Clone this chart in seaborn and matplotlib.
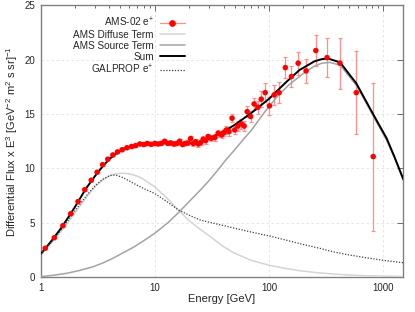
import numpy as np
import pandas as pd
import matplotlib
matplotlib.use("Agg")
import matplotlib.pyplot as plt
import seaborn as sns
from matplotlib.ticker import LogLocator, NullFormatter, FixedLocator
from matplotlib.lines import Line2D

# ---- data ----
ams_energy = [1.10, 1.32, 1.57, 1.84, 2.13, 2.44, 2.78, 3.13, 3.50, 3.88, 4.30, 4.72,
              5.18, 5.70, 6.27, 6.80, 7.40, 8.00, 8.60, 9.30, 10.0, 10.7, 11.4, 12.2,
              13.0, 13.8, 14.7, 15.6, 16.5, 17.5, 18.5, 19.5, 20.6, 21.7, 22.8, 24.0,
              25.2, 26.5, 27.9, 29.3, 31.3, 33.6, 35.9, 38.4, 40.4, 42.4, 44.7, 47.5,
              50.1, 53.4, 57.4, 60.6, 64.4, 69.0, 74.1, 80.0, 85.5, 92.6, 100.9, 111.0,
              122.6, 139.0, 157.0, 180.0, 211.0, 257.0, 322.0, 418.0, 581.0, 817.0]
ams_flux = [2.66, 3.63, 4.74, 5.84, 6.95, 8.05, 8.91, 9.65, 10.35, 10.85, 11.24, 11.52,
            11.72, 11.90, 12.02, 12.10, 12.25, 12.20, 12.30, 12.22, 12.30, 12.25, 12.30, 12.50,
            12.30, 12.35, 12.25, 12.30, 12.50, 12.20, 12.30, 12.35, 12.75, 12.30, 12.45, 12.25,
            12.37, 12.68, 12.56, 12.93, 12.78, 12.84, 13.24, 13.08, 13.30, 13.54, 13.39, 14.62,
            13.54, 13.90, 14.09, 13.90, 15.22, 14.77, 15.93, 15.63, 16.37, 16.97, 15.75, 16.76,
            16.97, 19.27, 18.45, 19.68, 18.97, 20.84, 20.19, 19.68, 16.97, 11.09]
ams_err = [0.08, 0.08, 0.08, 0.08, 0.08, 0.09, 0.09, 0.09, 0.10, 0.10, 0.10, 0.10,
           0.10, 0.11, 0.11, 0.11, 0.12, 0.12, 0.12, 0.13, 0.13, 0.14, 0.14, 0.15,
           0.15, 0.16, 0.16, 0.17, 0.18, 0.18, 0.19, 0.20, 0.21, 0.22, 0.23, 0.24,
           0.25, 0.26, 0.27, 0.28, 0.29, 0.30, 0.31, 0.32, 0.33, 0.35, 0.37, 0.38,
           0.40, 0.42, 0.44, 0.46, 0.48, 0.52, 0.55, 0.60, 0.75, 0.85, 0.80, 0.90,
           0.95, 1.00, 1.00, 1.07, 1.10, 1.45, 1.80, 2.35, 3.80, 6.80]

diffuse_energy = [1.0, 1.25, 1.5, 1.75, 2.0, 2.5, 3.0, 3.5, 4.0, 4.5, 5.0, 5.5, 6.0, 7.0,
                  8.0, 10.0, 13.0, 16.0, 20.0, 25.0, 30.0, 40.0, 50.0, 70.0, 100.0, 140.0,
                  185.0, 260.0, 360.0, 500.0, 700.0, 1000.0, 1500.0]
diffuse_flux = [2.05, 3.15, 4.15, 5.05, 5.90, 7.30, 8.30, 8.95, 9.30, 9.50, 9.55, 9.55, 9.50, 9.30,
                9.00, 8.30, 7.20, 6.20, 5.20, 4.40, 3.80, 2.80, 2.20, 1.55, 1.10, 0.80,
                0.60, 0.42, 0.30, 0.20, 0.14, 0.10, 0.07]

source_energy = [1.0, 1.3, 1.7, 2.2, 2.9, 3.5, 4.3, 5.3, 6.5, 8.0, 10.0, 13.0, 16.0, 20.0,
                 25.0, 30.0, 36.0, 42.0, 50.0, 60.0, 70.0, 82.0, 95.0, 120.0, 150.0, 185.0,
                 210.0, 250.0, 290.0, 340.0, 420.0, 500.0, 580.0, 710.0, 870.0, 1070.0, 1250.0, 1500.0]
source_flux = [0.05, 0.18, 0.36, 0.62, 0.97, 1.30, 1.74, 2.25, 2.75, 3.35, 4.04, 5.00, 5.90, 6.95,
               8.00, 8.90, 9.90, 10.80, 11.70, 12.70, 13.50, 14.50, 15.40, 16.70, 17.70, 18.45,
               18.90, 19.40, 19.68, 19.75, 19.50, 18.50, 17.65, 16.00, 14.30, 12.60, 11.00, 8.90]

sum_energy = [1.0, 1.25, 1.5, 1.75, 2.0, 2.5, 3.0, 3.5, 4.0, 4.5, 5.0, 5.5, 6.0, 7.0, 8.0,
              10.0, 13.0, 16.0, 20.0, 25.0, 30.0, 40.0, 50.0, 70.0, 100.0, 140.0, 185.0,
              250.0, 290.0, 330.0, 420.0, 500.0, 580.0, 710.0, 870.0, 1070.0, 1250.0, 1500.0]
sum_flux = [2.10, 3.35, 4.45, 5.50, 6.45, 8.15, 9.30, 10.20, 10.85, 11.30, 11.62, 11.85, 12.00, 12.15, 12.22,
            12.30, 12.30, 12.28, 12.30, 12.45, 12.75, 13.40, 14.00, 15.10, 16.40, 17.90, 19.05,
            19.85, 20.05, 20.10, 19.75, 18.70, 17.84, 16.15, 14.46, 12.78, 11.10, 9.00]

galprop_energy = [1.0, 1.25, 1.5, 1.75, 2.0, 2.5, 3.0, 3.5, 4.0, 4.3, 4.7, 5.3, 6.5, 8.0, 10.0,
                  13.0, 16.0, 20.0, 25.0, 30.0, 40.0, 50.0, 70.0, 100.0, 140.0, 200.0, 280.0,
                  360.0, 500.0, 700.0, 1000.0, 1500.0]
galprop_flux = [2.10, 3.25, 4.30, 5.25, 6.10, 7.45, 8.40, 9.00, 9.32, 9.40, 9.35, 9.15, 8.64, 8.15, 7.70,
                6.90, 6.20, 5.70, 5.26, 5.05, 4.75, 4.50, 4.15, 3.80, 3.42, 3.00, 2.65,
                2.35, 2.05, 1.80, 1.55, 1.33]

ams = pd.DataFrame({"E": ams_energy, "F": ams_flux, "err": ams_err})
curve_labels = ["AMS Diffuse Term", "AMS Source Term", "Sum", "GALPROP e$^{+}$"]
curves = pd.concat([
    pd.DataFrame({"E": diffuse_energy, "F": diffuse_flux, "label": curve_labels[0]}),
    pd.DataFrame({"E": source_energy, "F": source_flux, "label": curve_labels[1]}),
    pd.DataFrame({"E": sum_energy, "F": sum_flux, "label": curve_labels[2]}),
    pd.DataFrame({"E": galprop_energy, "F": galprop_flux, "label": curve_labels[3]}),
])

sns.set_style("white")
plt.rcParams["font.family"] = ["Liberation Sans", "DejaVu Sans"]
plt.rcParams["mathtext.fontset"] = "custom"
plt.rcParams["mathtext.rm"] = "Liberation Sans"
plt.rcParams["mathtext.it"] = "Liberation Sans:italic"

fig = plt.figure(figsize=(4.15, 3.12), dpi=100)
ax = fig.add_axes([40.5 / 415, 1 - 277.2 / 312, (402.7 - 40.5) / 415, (277.2 - 5.3) / 312])
ax.set_xscale("log")

styles = {
    curve_labels[0]: dict(color="#d4d4d4", lw=1.1, ls="-"),
    curve_labels[1]: dict(color="#a3a3a3", lw=1.1, ls="-"),
    curve_labels[2]: dict(color="black", lw=1.4, ls="-"),
    curve_labels[3]: dict(color="#404040", lw=0.9, ls=(0, (1, 1.3))),
}

ax.errorbar(ams["E"], ams["F"], yerr=ams["err"], fmt="none", ecolor="#ff8f8f",
            elinewidth=0.9, capsize=1.6, capthick=0.9, zorder=2)

for lab in curve_labels:
    sub = curves[curves["label"] == lab]
    st = styles[lab]
    sns.lineplot(data=sub, x="E", y="F", ax=ax, color=st["color"], lw=st["lw"],
                 linestyle=st["ls"], sort=True, estimator=None, zorder=3, legend=False)

sns.scatterplot(data=ams, x="E", y="F", ax=ax, color="#ff0000", s=16, edgecolor="none",
                zorder=4, legend=False)

legend_handles = [Line2D([0], [0], color="#ff8f8f", lw=0.9, marker="o", ms=3.8,
                         markerfacecolor="#ff0000", markeredgecolor="#ff0000")]
legend_handles += [Line2D([0], [0], color=styles[l]["color"], lw=styles[l]["lw"],
                          ls=styles[l]["ls"]) for l in curve_labels]
legend_labels = ["AMS-02 e$^{+}$"] + curve_labels
ax.legend(legend_handles, legend_labels, loc="upper left", bbox_to_anchor=(0.09, 0.962),
          frameon=False, markerfirst=False, fontsize=7.2, handlelength=2.5,
          handletextpad=0.6, labelspacing=0.1, borderaxespad=0, borderpad=0)

ax.set_xlim(1, 1480)
ax.set_ylim(0, 25)
ax.set_yticks([0, 5, 10, 15, 20, 25])
ax.xaxis.set_major_locator(FixedLocator([1, 10, 100, 1000]))
ax.set_xticklabels(["1", "10", "100", "1000"])
ax.xaxis.set_minor_locator(LogLocator(base=10, subs=np.arange(2, 10), numticks=20))
ax.xaxis.set_minor_formatter(NullFormatter())
ax.tick_params(which="both", direction="in", top=True, right=True, labelsize=7,
               color="#555555", width=0.6)
ax.tick_params(which="major", length=4, pad=4)
ax.tick_params(which="minor", length=2)
ax.grid(True, which="major", color="#e0e0e0", ls=(0, (3, 3)), lw=0.6)
for sp in ax.spines.values():
    sp.set_color("#808080")
    sp.set_linewidth(1.0)

ax.set_xlabel("Energy [GeV]", fontsize=8, labelpad=1)
ax.set_ylabel("Differential Flux x E$^{3}$ [GeV$^{-2}$ m$^{2}$ s sr]$^{-1}$", fontsize=8,
              labelpad=3)

fig.savefig("out.png", dpi=100)
